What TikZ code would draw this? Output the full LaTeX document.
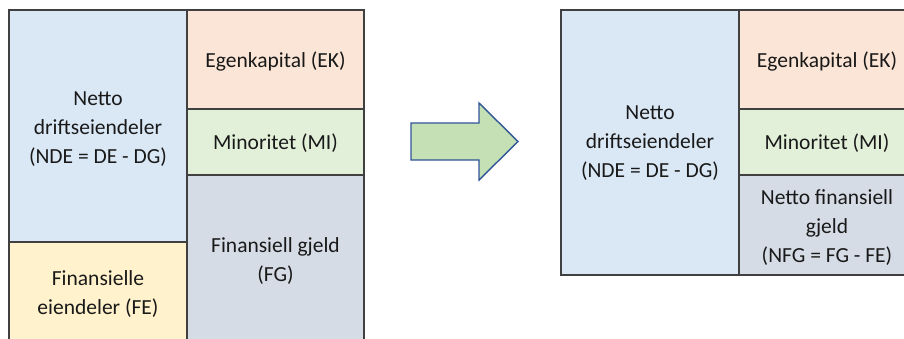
\documentclass[tikz,border=0pt]{standalone}
\usepackage{fontspec}
\setmainfont{Carlito}
\definecolor{ndeblue}{HTML}{DAE8F5}
\definecolor{ekorange}{HTML}{FBE5D6}
\definecolor{migreen}{HTML}{E2F0D9}
\definecolor{fggray}{HTML}{D6DCE5}
\definecolor{fegold}{HTML}{FFF2CC}
\definecolor{arrowfill}{HTML}{C5E0B4}
\definecolor{arrowline}{HTML}{2F5597}
\definecolor{boxline}{HTML}{404040}
\tikzset{
  block/.style={draw=boxline, line width=1.2pt},
  label/.style={align=center, text=black!90, font=\fontsize{21.5}{29}\selectfont, inner sep=0pt},
}
\begin{document}
\begin{tikzpicture}[x=1pt,y=-1pt]
\useasboundingbox (0,0) rectangle (904,338);
\clip (0,0) rectangle (904,338);
% balance before netting
\filldraw[block, fill=ndeblue]  (9,10)   rectangle (187,242);
\filldraw[block, fill=fegold]   (9,242)  rectangle (187,346);
\filldraw[block, fill=ekorange] (187,10) rectangle (364,109);
\filldraw[block, fill=migreen]  (187,109) rectangle (364,175);
\filldraw[block, fill=fggray]   (187,175) rectangle (364,346);
\node[label] (nde1) at (98,129) {Netto\\driftseiendeler\\(NDE = DE - DG)};
\node[label] (fe1)  at (98,294) {Finansielle\\eiendeler (FE)};
\node[label] (ek1)  at (275.5,61) {Egenkapital (EK)};
\node[label] (mi1)  at (275.5,143) {Minoritet (MI)};
\node[label] (fg1)  at (275.5,261) {Finansiell gjeld\\(FG)};
% transition arrow
\filldraw[draw=arrowline, fill=arrowfill, line width=1.4pt, line join=miter]
  (411,123) -- (479,123) -- (479,103) -- (518,141.5) -- (479,180) -- (479,160) -- (411,160) -- cycle;
% balance after netting
\filldraw[block, fill=ndeblue]  (561,10)  rectangle (739,275);
\filldraw[block, fill=ekorange] (739,10)  rectangle (915,109);
\filldraw[block, fill=migreen]  (739,109) rectangle (915,175);
\filldraw[block, fill=fggray]   (739,175) rectangle (915,275);
\node[label] (nde2) at (650,143) {Netto\\driftseiendeler\\(NDE = DE - DG)};
\node[label] (ek2)  at (827,61) {Egenkapital (EK)};
\node[label] (mi2)  at (827,143) {Minoritet (MI)};
\node[label] (nfg2) at (827,228) {Netto finansiell\\gjeld\\(NFG = FG - FE)};
\end{tikzpicture}
\end{document}
